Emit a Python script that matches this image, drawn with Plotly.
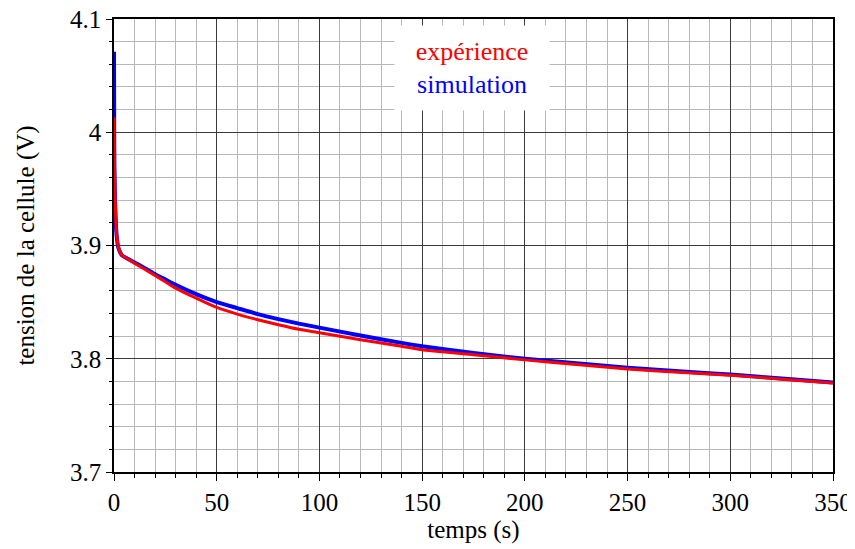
import plotly.graph_objects as go

# time (s) / voltage (V)
t_exp = [0, 0.2, 0.5, 1, 1.5, 2, 3, 4, 6, 10, 15, 20, 25, 30, 40, 50, 60, 70, 80, 90,
         100, 120, 140, 150, 175, 200, 225, 250, 275, 300, 325, 350]
v_exp = [4.013, 3.975, 3.945, 3.918, 3.906, 3.900, 3.894, 3.891, 3.889, 3.8844, 3.879,
         3.8735, 3.868, 3.8624, 3.8535, 3.8453, 3.8394, 3.8344, 3.830, 3.826,
         3.823, 3.8168, 3.8111, 3.808, 3.8036, 3.799, 3.795, 3.791, 3.788, 3.7855, 3.782, 3.7785]

t_sim = [0, 0.1, 0.2, 0.5, 1, 1.5, 2, 3, 4, 6, 10, 15, 20, 25, 30, 40, 50, 60, 70, 80, 90,
         100, 120, 140, 150, 175, 200, 225, 250, 275, 300, 325, 350]
v_sim = [4.071, 4.00, 3.97, 3.94, 3.916, 3.905, 3.899, 3.894, 3.891, 3.889, 3.885, 3.880,
         3.8747, 3.870, 3.8653, 3.857, 3.850, 3.8447, 3.8394, 3.835, 3.831,
         3.8275, 3.8205, 3.814, 3.811, 3.805, 3.800, 3.796, 3.792, 3.789, 3.786, 3.7825, 3.779]

x_ticks = [0, 50, 100, 150, 200, 250, 300, 350]
y_ticks = [3.7, 3.8, 3.9, 4.0, 4.1]
y_tick_labels = ["3.7", "3.8", "3.9", "4", "4.1"]

FONT = "Liberation Serif"

fig = go.Figure()
fig.add_trace(go.Scatter(x=t_sim, y=v_sim, mode="lines", name="simulation",
                         line=dict(color="#0000ff", width=4, shape="spline", smoothing=0.4)))
fig.add_trace(go.Scatter(x=t_exp, y=v_exp, mode="lines", name="expérience",
                         line=dict(color="#ff0000", width=3, shape="spline", smoothing=0.4)))

fig.add_annotation(
    x=174.5, y=4.0567, xref="x", yref="y",
    text="<span style='color:#ff0000'>expérience</span><br><span style='color:#0000ff'>simulation</span>",
    showarrow=False, bgcolor="white", width=150, height=80, borderpad=2,
    font=dict(family=FONT, size=26), align="center", valign="middle",
)

fig.update_layout(
    width=855, height=549,
    margin=dict(l=106, r=30, t=11, b=85),
    plot_bgcolor="white", paper_bgcolor="white",
    showlegend=False,
    font=dict(family=FONT, size=25, color="black"),
)
fig.update_xaxes(
    range=[0, 350], tickvals=x_ticks, ticks="outside", ticklen=7, tickcolor="black",
    showline=True, linecolor="black", linewidth=1.5, mirror=True, automargin=False,
    showgrid=True, gridcolor="#3a3a3a", gridwidth=1, zeroline=False,
    ticklabeloverflow="allow",
    minor=dict(dtick=10, ticks="outside", ticklen=4, tickcolor="black",
               showgrid=True, gridcolor="#b8b8b8", gridwidth=1),
    title=dict(text="temps (s)", standoff=6, font=dict(family=FONT, size=25)),
    tickfont=dict(family=FONT, size=25),
)
fig.update_yaxes(
    range=[3.7, 4.1], tickvals=y_ticks, ticktext=y_tick_labels, ticks="outside", ticklen=6,
    tickcolor="black",
    showline=True, linecolor="black", linewidth=1.5, mirror=True, automargin=False,
    showgrid=True, gridcolor="#3a3a3a", gridwidth=1, zeroline=False,
    ticklabeloverflow="allow",
    minor=dict(dtick=0.02, ticks="outside", ticklen=3, tickcolor="black",
               showgrid=True, gridcolor="#b8b8b8", gridwidth=1),
    title=dict(text="tension de la cellule (V)", standoff=28, font=dict(family=FONT, size=25)),
    tickfont=dict(family=FONT, size=25),
)

fig.write_html("out.html")
